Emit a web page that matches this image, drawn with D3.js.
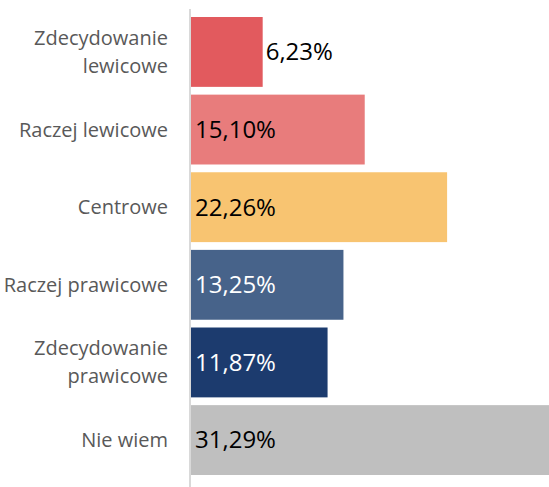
<!DOCTYPE html>
<html>
<head>
<meta charset="utf-8">
<script src="https://cdn.jsdelivr.net/npm/d3@7"></script>
<style>
  body { margin: 0; background: #fff; overflow: hidden; }
  text { font-family: "Open Sans", sans-serif; }
</style>
</head>
<body>
<div id="visual"></div>
<script>
// data
const categories = [
  ["Zdecydowanie", "lewicowe"],
  ["Raczej lewicowe"],
  ["Centrowe"],
  ["Raczej prawicowe"],
  ["Zdecydowanie", "prawicowe"],
  ["Nie wiem"]
];
const values = [6.23, 15.10, 22.26, 13.25, 11.87, 31.29];
const colors = ["#e25a5e", "#e87c7c", "#f8c471", "#47638a", "#1c3b6e", "#bfbfbf"];
const labelColors = ["#000", "#000", "#000", "#fff", "#fff", "#000"];

const width = 549, height = 487;
const axisX = 190;

const svg = d3.select("#visual")
  .append("svg")
  .attr("width", width)
  .attr("height", height);

const keys = categories.map((d, i) => i);

// bars run a little past the right edge, like in the original
const xScale = d3.scaleLinear()
  .domain([0, 31.29])
  .range([axisX + 1, 551]);

const yScale = d3.scaleBand()
  .domain(keys)
  .range([17, 475])
  .paddingInner(0.1)
  .paddingOuter(0);

//bars
svg.selectAll("rect.bar")
  .data(values)
  .enter()
  .append("rect")
  .attr("class", "bar")
  .attr("x", xScale(0))
  .attr("y", (d, i) => yScale(i))
  .attr("width", d => xScale(d) - xScale(0))
  .attr("height", yScale.bandwidth())
  .attr("fill", (d, i) => colors[i]);

//axis line
svg.append("line")
  .attr("x1", axisX)
  .attr("x2", axisX)
  .attr("y1", 9)
  .attr("y2", height)
  .attr("stroke", "#d9d9d9")
  .attr("stroke-width", 2);

//category labels
const fmt = d => d.toFixed(2).replace(".", ",") + "%";
categories.forEach((lines, i) => {
  const cy = yScale(i) + yScale.bandwidth() / 2;
  const lh = 28;
  const t = svg.append("text")
    .attr("text-anchor", "end")
    .attr("fill", "#595959")
    .style("font-size", "20px");
  lines.forEach((line, j) => {
    t.append("tspan")
      .attr("x", 168)
      .attr("y", cy + (j - (lines.length - 1) / 2) * lh)
      .attr("dy", "0.35em")
      .text(line);
  });
});

//value labels
svg.selectAll("text.value")
  .data(values)
  .enter()
  .append("text")
  .attr("class", "value")
  .attr("x", d => (d < 8 ? xScale(d) + 3 : xScale(0) + 4))
  .attr("y", (d, i) => yScale(i) + yScale.bandwidth() / 2)
  .attr("dy", "0.35em")
  .attr("fill", (d, i) => labelColors[i])
  .style("font-size", "24px")
  .text(fmt);
</script>
</body>
</html>
